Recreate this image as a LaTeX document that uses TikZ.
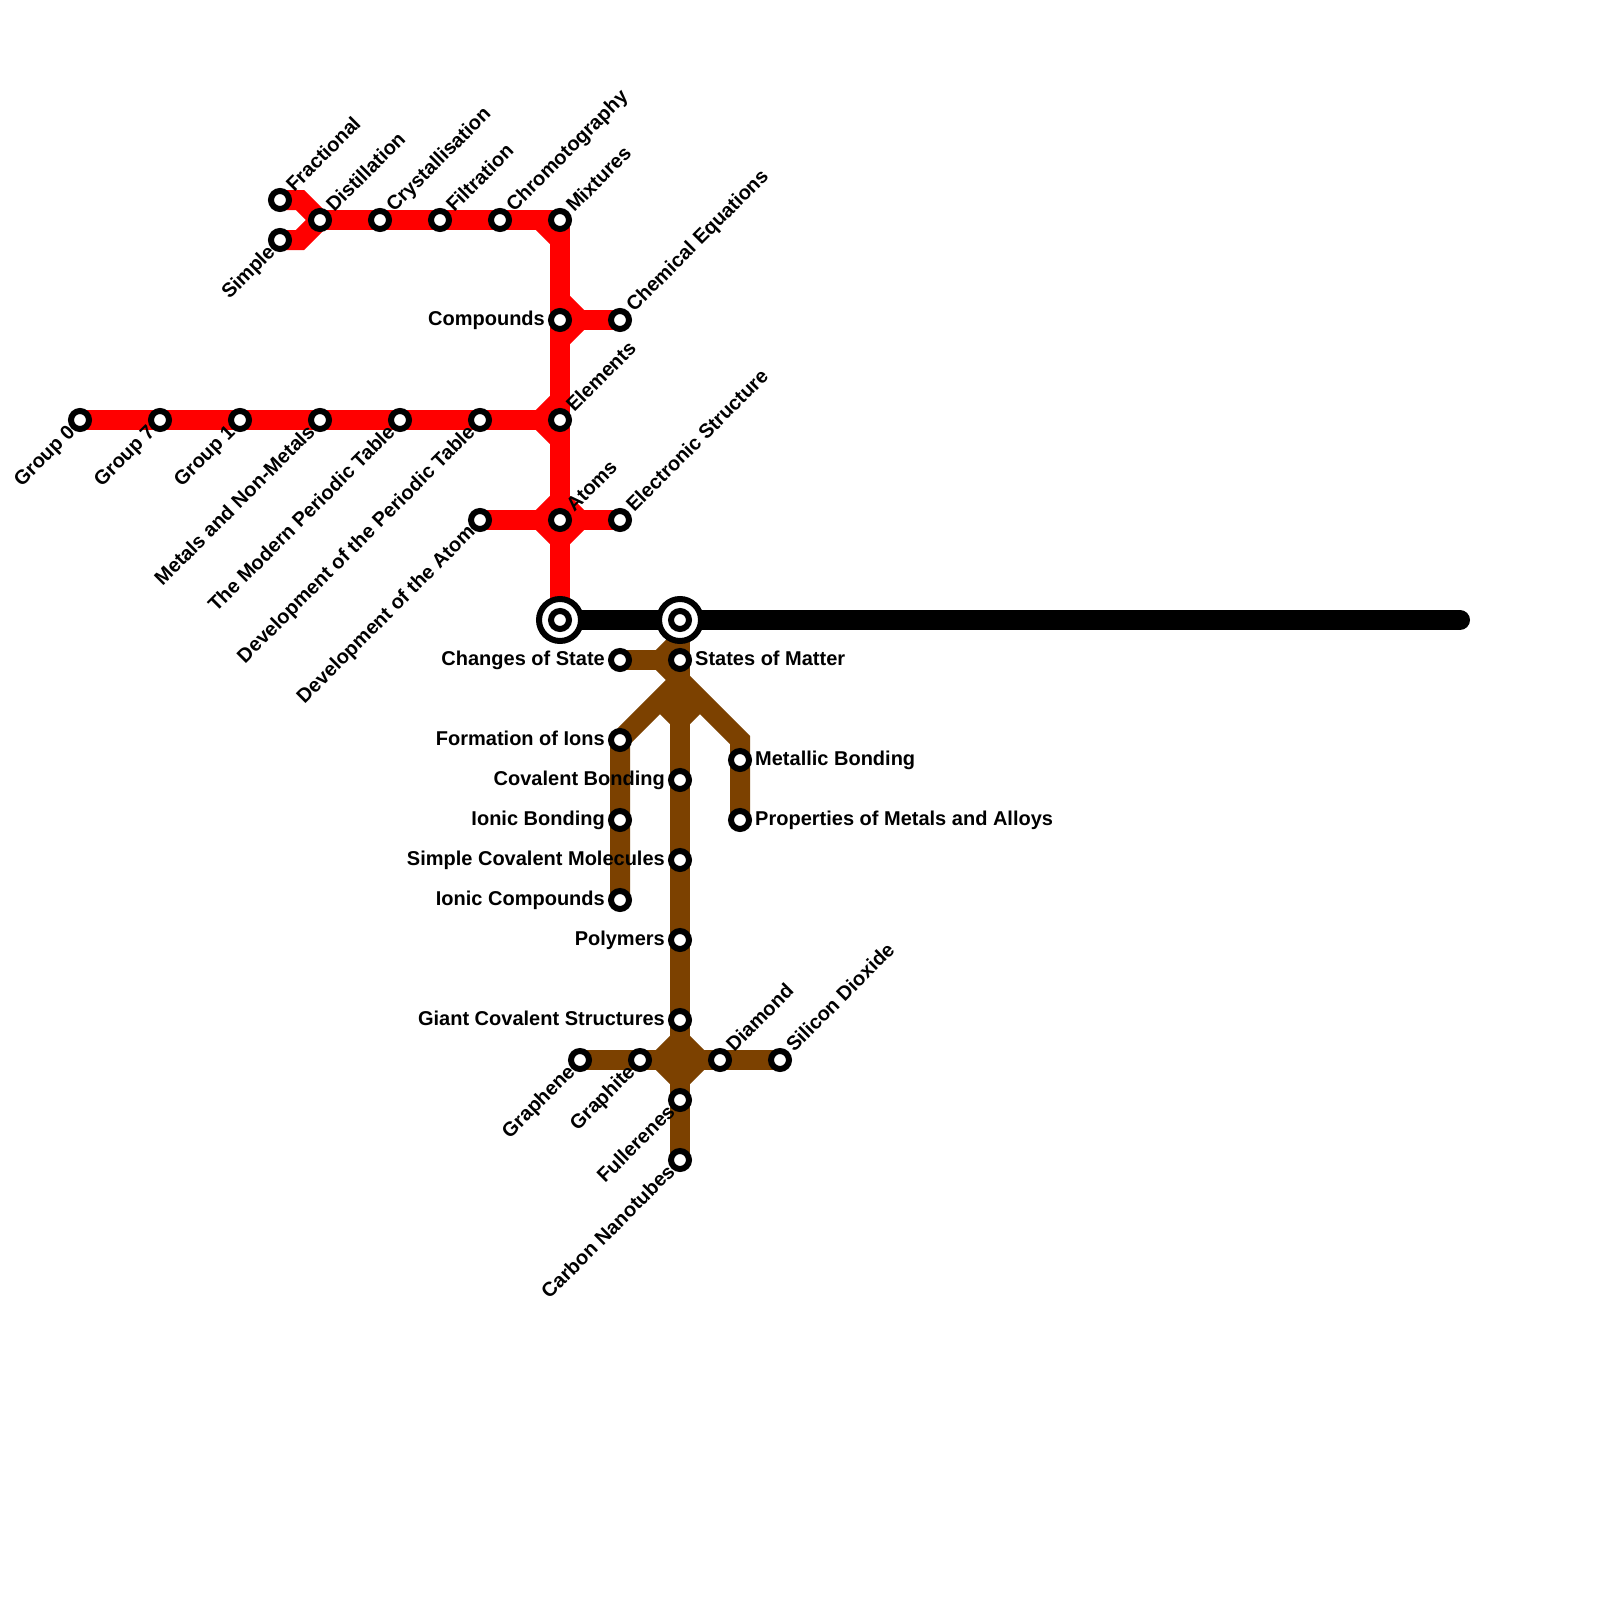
\documentclass[tikz,border=0pt]{standalone}
\usepackage{fontspec}
\setmainfont{Liberation Sans}
\tikzset{
  x=1pt,y=-1pt,
  redline/.style={draw={rgb,255:red,255;green,0;blue,0},line width=20pt,miter limit=10,line join=miter},
  brownline/.style={draw={rgb,255:red,124;green,65;blue,0},line width=20pt,miter limit=10,line join=miter},
  blackline/.style={draw=black,line width=20pt,line cap=round},
  stn/.style={circle,draw=black,fill=white,line width=6pt,minimum size=18pt,inner sep=0pt},
  hub/.style={circle,draw=black,fill=white,line width=6pt,minimum size=42pt,inner sep=0pt},
  lbl/.style={font=\bfseries\fontsize{20}{24}\selectfont,inner sep=0pt,text=black},
  lblL/.style={lbl,anchor=base east,xshift=-15pt,yshift=-5pt},
  lblR/.style={lbl,anchor=base west,xshift=15pt,yshift=-5pt},
  lblU/.style={lbl,rotate=45,anchor=base west,xshift=15pt,yshift=-5pt},
  lblD/.style={lbl,rotate=45,anchor=base east,xshift=-12pt,yshift=-6.5pt},
}
\begin{document}
\begin{tikzpicture}
\useasboundingbox (0,0) rectangle (1600,1600);
\fill[white] (0,0) rectangle (1600,1600);
% stations
\coordinate (fra) at (280,200);
\coordinate (sim) at (280,240);
\coordinate (dis) at (320,220);
\coordinate (cry) at (380,220);
\coordinate (fil) at (440,220);
\coordinate (chr) at (500,220);
\coordinate (mix) at (560,220);
\coordinate (com) at (560,320);
\coordinate (che) at (620,320);
\coordinate (ele) at (560,420);
\coordinate (g0) at (80,420);
\coordinate (g7) at (160,420);
\coordinate (g1) at (240,420);
\coordinate (met) at (320,420);
\coordinate (mod) at (400,420);
\coordinate (dpt) at (480,420);
\coordinate (dat) at (480,520);
\coordinate (ato) at (560,520);
\coordinate (est) at (620,520);
\coordinate (hubA) at (560,620);
\coordinate (hubB) at (680,620);
\coordinate (blackend) at (1460,620);
\coordinate (cha) at (620,660);
\coordinate (sta) at (680,660);
\coordinate (for) at (620,740);
\coordinate (cov) at (680,780);
\coordinate (ion) at (620,820);
\coordinate (icp) at (620,900);
\coordinate (scm) at (680,860);
\coordinate (pol) at (680,940);
\coordinate (gia) at (680,1020);
\coordinate (gne) at (580,1060);
\coordinate (gte) at (640,1060);
\coordinate (dia) at (720,1060);
\coordinate (sil) at (780,1060);
\coordinate (ful) at (680,1100);
\coordinate (car) at (680,1160);
\coordinate (mtb) at (740,760);
\coordinate (pma) at (740,820);
% waypoints
\coordinate (w1) at (300,200);
\coordinate (w2) at (300,240);
\coordinate (w3) at (540,220);
\coordinate (w4) at (560,240);
\coordinate (w5) at (560,300);
\coordinate (w6) at (580,320);
\coordinate (w7) at (560,340);
\coordinate (w8) at (540,420);
\coordinate (w9) at (560,400);
\coordinate (w10) at (560,440);
\coordinate (w11) at (540,520);
\coordinate (w12) at (560,500);
\coordinate (w13) at (560,540);
\coordinate (w14) at (580,520);
\coordinate (b1) at (660,660);
\coordinate (b2) at (680,640);
\coordinate (b3) at (680,680);
\coordinate (b4) at (740,740);
\coordinate (b5) at (660,700);
\coordinate (b6) at (700,700);
\coordinate (b7) at (680,720);
\coordinate (b8) at (660,1060);
\coordinate (b9) at (680,1040);
\coordinate (b10) at (700,1060);
\coordinate (b11) at (680,1080);
% red
\draw[redline] (fra) -- (w1) -- (dis);
\draw[redline] (sim) -- (w2) -- (dis);
\draw[redline] (dis) -- (mix);
\draw[redline] (mix) -- (hubA);
\draw[redline] (w3) -- (w4);
\draw[redline] (w5) -- (w6) -- (w7);
\draw[redline] (w6) -- (che);
\draw[redline] (g0) -- (w8);
\draw[redline] (w9) -- (w8) -- (w10);
\draw[redline] (dat) -- (w11);
\draw[redline] (w12) -- (w11) -- (w13) -- (w14) -- (w12) -- cycle;
\draw[redline] (w14) -- (est);
% brown
\draw[brownline] (hubB) -- (b7);
\draw[brownline] (cha) -- (b1);
\draw[brownline] (b2) -- (b1) -- (b3);
\draw[brownline] (icp) -- (for) -- (b3) -- (b4) -- (pma);
\draw[brownline] (b5) -- (b7) -- (b6);
\draw[brownline] (b7) -- (car);
\draw[brownline] (gne) -- (sil);
\draw[brownline] (b8) -- (b9) -- (b10) -- (b11) -- cycle;
% black
\draw[blackline] (hubA) -- (blackend);
% interchanges
\node[hub] (hubAo) at (hubA) {};
\node[hub] (hubBo) at (hubB) {};
% station markers
\foreach \s in {fra,sim,dis,cry,fil,chr,mix,com,che,ele,g0,g7,g1,met,mod,dpt,dat,ato,est,hubA,hubB,cha,sta,for,cov,ion,icp,scm,pol,gia,gne,gte,dia,sil,ful,car,mtb,pma}
  \node[stn] (st\s) at (\s) {};
% labels
\node[lblU] (lfra) at (fra) {Fractional};
\node[lblD] (lsim) at (sim) {Simple};
\node[lblU] (ldis) at (dis) {Distillation};
\node[lblU] (lcry) at (cry) {Crystallisation};
\node[lblU] (lfil) at (fil) {Filtration};
\node[lblU] (lchr) at (chr) {Chromotography};
\node[lblU] (lmix) at (mix) {Mixtures};
\node[lblL] (lcom) at (com) {Compounds};
\node[lblU] (lche) at (che) {Chemical Equations};
\node[lblU] (lele) at (ele) {Elements};
\node[lblD] (lg0) at (g0) {Group 0};
\node[lblD] (lg7) at (g7) {Group 7};
\node[lblD] (lg1) at (g1) {Group 1};
\node[lblD] (lmet) at (met) {Metals and Non-Metals};
\node[lblD] (lmod) at (mod) {The Modern Periodic Table};
\node[lblD] (ldpt) at (dpt) {Development of the Periodic Table};
\node[lblD] (ldat) at (dat) {Development of the Atom};
\node[lblU] (lato) at (ato) {Atoms};
\node[lblU] (lest) at (est) {Electronic Structure};
\node[lblL] (lcha) at (cha) {Changes of State};
\node[lblR] (lsta) at (sta) {States of Matter};
\node[lblL] (lfor) at (for) {Formation of Ions};
\node[lblL] (lcov) at (cov) {Covalent Bonding};
\node[lblL] (lion) at (ion) {Ionic Bonding};
\node[lblL] (licp) at (icp) {Ionic Compounds};
\node[lblL] (lscm) at (scm) {Simple Covalent Molecules};
\node[lblL] (lpol) at (pol) {Polymers};
\node[lblL] (lgia) at (gia) {Giant Covalent Structures};
\node[lblD] (lgne) at (gne) {Graphene};
\node[lblD] (lgte) at (gte) {Graphite};
\node[lblU] (ldia) at (dia) {Diamond};
\node[lblU] (lsil) at (sil) {Silicon Dioxide};
\node[lblD] (lful) at (ful) {Fullerenes};
\node[lblD] (lcar) at (car) {Carbon Nanotubes};
\node[lblR] (lmtb) at (mtb) {Metallic Bonding};
\node[lblR] (lpma) at (pma) {Properties of Metals and Alloys};
\end{tikzpicture}
\end{document}
